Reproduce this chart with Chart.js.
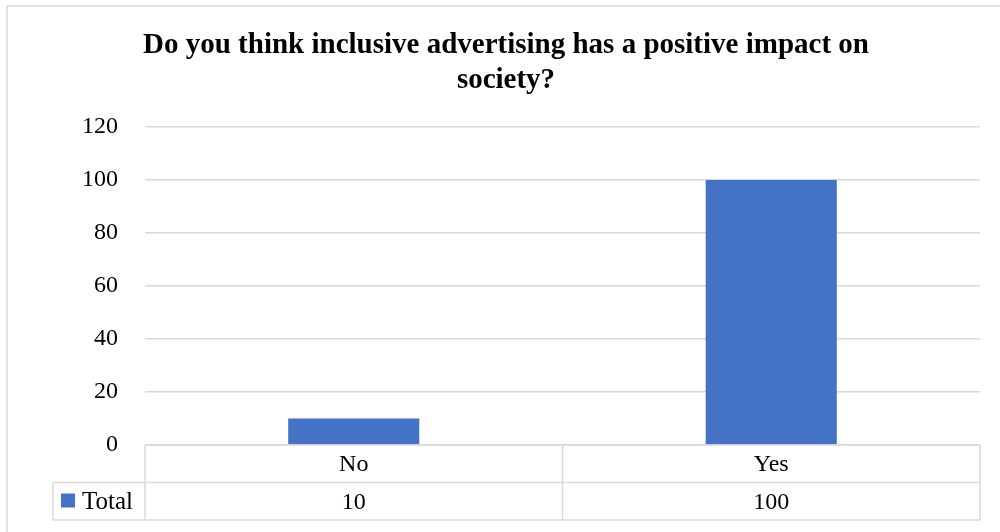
<!DOCTYPE html>
<html>
<head>
<meta charset="utf-8">
<script src="https://cdn.jsdelivr.net/npm/chart.js@4"></script>
<style>
  html, body { margin: 0; padding: 0; background: #fff; }
  #wrap { width: 1000px; height: 532px; position: relative; }
</style>
</head>
<body>
<div id="wrap"><canvas id="surveyChart"></canvas></div>
<script>
// Survey answers
const answers = ["No", "Yes"];
const totals = [10, 100];
const seriesName = "Total";
const yTicks = [0, 20, 40, 60, 80, 100, 120];

const barBlue = "#4472C4";
const lineGrey = "#d9d9d9";
const serif = "'Liberation Serif', 'Times New Roman', serif";

const ROW_H = 37.5;
const TABLE_LEFT = 53;

// Draws the frame around the chart and the data table under the plot
const dataTable = {
  id: "dataTable",
  beforeDraw(chart) {
    const ctx = chart.ctx;
    ctx.save();
    ctx.fillStyle = "#fff";
    ctx.fillRect(0, 0, chart.width, chart.height);
    ctx.strokeStyle = lineGrey;
    ctx.lineWidth = 1.5;
    ctx.strokeRect(7, 6, chart.width + 10, chart.height + 10);
    ctx.restore();
  },
  afterDraw(chart) {
    const ctx = chart.ctx;
    const area = chart.chartArea;
    const x = chart.scales.x;
    const top = area.bottom;
    const mid = top + ROW_H;
    const bottom = mid + ROW_H;
    const step = (area.right - area.left) / answers.length;

    ctx.save();
    ctx.strokeStyle = lineGrey;
    ctx.lineWidth = 1.5;
    ctx.beginPath();
    ctx.moveTo(area.left, top); ctx.lineTo(area.right, top);
    ctx.moveTo(TABLE_LEFT, mid); ctx.lineTo(area.right, mid);
    ctx.moveTo(TABLE_LEFT, bottom); ctx.lineTo(area.right, bottom);
    ctx.moveTo(TABLE_LEFT, mid); ctx.lineTo(TABLE_LEFT, bottom);
    for (let i = 0; i <= answers.length; i++) {
      const px = area.left + i * step;
      ctx.moveTo(px, top); ctx.lineTo(px, bottom);
    }
    ctx.stroke();

    ctx.fillStyle = "#000";
    ctx.font = "24px " + serif;
    ctx.textAlign = "center";
    ctx.textBaseline = "middle";
    answers.forEach((a, i) => {
      const cx = x.getPixelForValue(i);
      ctx.fillText(a, cx, top + ROW_H / 2 + 1);
      ctx.fillText(String(totals[i]), cx, mid + ROW_H / 2 + 1);
    });

    // legend key for the series row
    ctx.fillStyle = barBlue;
    ctx.fillRect(61, mid + 11, 14, 14);
    ctx.fillStyle = "#000";
    ctx.textAlign = "left";
    ctx.font = "25px " + serif;
    ctx.fillText(seriesName, 82, mid + ROW_H / 2 + 1);
    ctx.restore();
  }
};

new Chart(document.getElementById("surveyChart"), {
  type: "bar",
  data: {
    labels: answers,
    datasets: [
      {
        label: seriesName,
        data: totals,
        backgroundColor: barBlue,
        categoryPercentage: 1,
        barPercentage: 0.314,
      },
    ],
  },
  options: {
    responsive: true,
    maintainAspectRatio: false,
    animation: false,
    // left/right padding keeps the title centred where it sits over the plot
    layout: { padding: { left: 32, right: 20, top: 0, bottom: 7 } },
    plugins: {
      legend: { display: false },
      tooltip: { enabled: false },
      title: {
        display: true,
        text: ["Do you think inclusive advertising has a positive impact on", "society?"],
        color: "#000",
        font: { family: serif, size: 29, weight: "bold", lineHeight: 1.207 },
        padding: { top: 28, bottom: 29 },
      },
    },
    scales: {
      x: {
        grid: { display: false },
        border: { display: false },
        ticks: { display: false },
        afterFit(scale) { scale.height = 80; },
      },
      y: {
        min: 0,
        max: 120,
        afterBuildTicks(scale) { scale.ticks = yTicks.map(v => ({ value: v })); },
        afterFit(scale) { scale.width = 113; },
        grid: { color: lineGrey, lineWidth: 1.5, drawTicks: false },
        border: { display: false },
        ticks: { color: "#000", padding: 27, font: { family: serif, size: 24 } },
      },
    },
  },
  plugins: [dataTable],
});
</script>
</body>
</html>
